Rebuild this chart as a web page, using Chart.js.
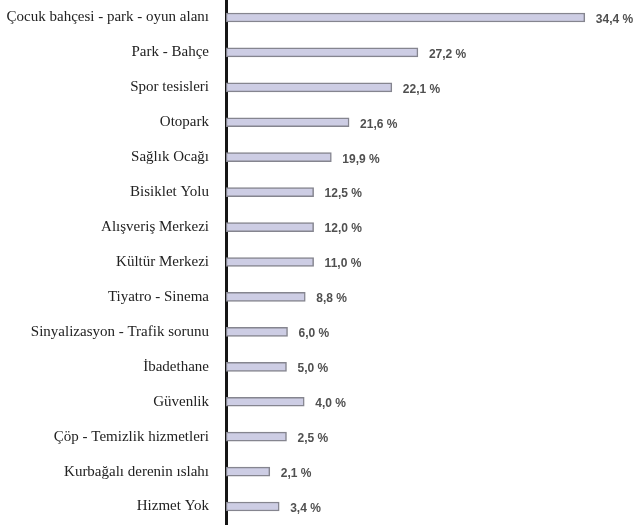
<!DOCTYPE html>
<html>
<head>
<meta charset="utf-8">
<script src="https://cdn.jsdelivr.net/npm/chart.js@4"></script>
<style>
  html, body { margin: 0; padding: 0; background: #ffffff; overflow: hidden; }
  #wrap { width: 640px; height: 576px; position: absolute; left: 0; top: -26px; }
</style>
</head>
<body>
<div id="wrap"><canvas id="chart"></canvas></div>
<script>
// categories, top to bottom
const categories = [
  'Çocuk bahçesi - park - oyun alanı',
  'Park - Bahçe',
  'Spor tesisleri',
  'Otopark',
  'Sağlık Ocağı',
  'Bisiklet Yolu',
  'Alışveriş Merkezi',
  'Kültür Merkezi',
  'Tiyatro - Sinema',
  'Sinyalizasyon - Trafik sorunu',
  'İbadethane',
  'Güvenlik',
  'Çöp - Temizlik hizmetleri',
  'Kurbağalı derenin ıslahı',
  'Hizmet Yok'
];

// printed percentages
const percentValues = [34.4, 27.2, 22.1, 21.6, 19.9, 12.5, 12.0, 11.0, 8.8, 6.0, 5.0, 4.0, 2.5, 2.1, 3.4];

// bar lengths as drawn in the source graphic (not to scale with the printed values)
const barLengths = [34.4, 18.4, 15.9, 11.8, 10.1, 8.4, 8.4, 8.4, 7.6, 5.9, 5.8, 7.5, 5.8, 4.2, 5.1];

const valueLabels = {
  id: 'valueLabels',
  afterDatasetsDraw(chart) {
    const ctx = chart.ctx;
    const meta = chart.getDatasetMeta(0);
    ctx.save();
    ctx.font = "bold 12px 'Liberation Sans', Arial, sans-serif";
    ctx.fillStyle = '#505050';
    ctx.textAlign = 'left';
    ctx.textBaseline = 'middle';
    meta.data.forEach((bar, i) => {
      const txt = percentValues[i].toFixed(1).replace('.', ',') + ' %';
      ctx.fillText(txt, bar.x + 11, bar.y + 2);
    });
    ctx.restore();
  }
};

new Chart(document.getElementById('chart'), {
  type: 'bar',
  data: {
    labels: categories,
    datasets: [{
      data: barLengths,
      backgroundColor: '#cdcde4',
      borderColor: '#85858f',
      borderWidth: 1.5,
      borderSkipped: false,
      barThickness: 9
    }]
  },
  options: {
    indexAxis: 'y',
    responsive: true,
    maintainAspectRatio: false,
    animation: false,
    layout: { autoPadding: false, padding: { top: 0, bottom: 0, left: 0, right: 2 } },
    plugins: {
      legend: { display: false },
      tooltip: { enabled: false }
    },
    scales: {
      x: {
        display: false,
        min: 0,
        max: 39.5
      },
      y: {
        afterFit(scale) { scale.width = 226; },
        grid: { display: false, drawTicks: false },
        border: { display: true, color: '#151515', width: 3 },
        ticks: {
          padding: 17,
          color: '#222222',
          font: { family: "'Liberation Serif', 'Times New Roman', serif", size: 15 }
        }
      }
    }
  },
  plugins: [valueLabels]
});
</script>
</body>
</html>
